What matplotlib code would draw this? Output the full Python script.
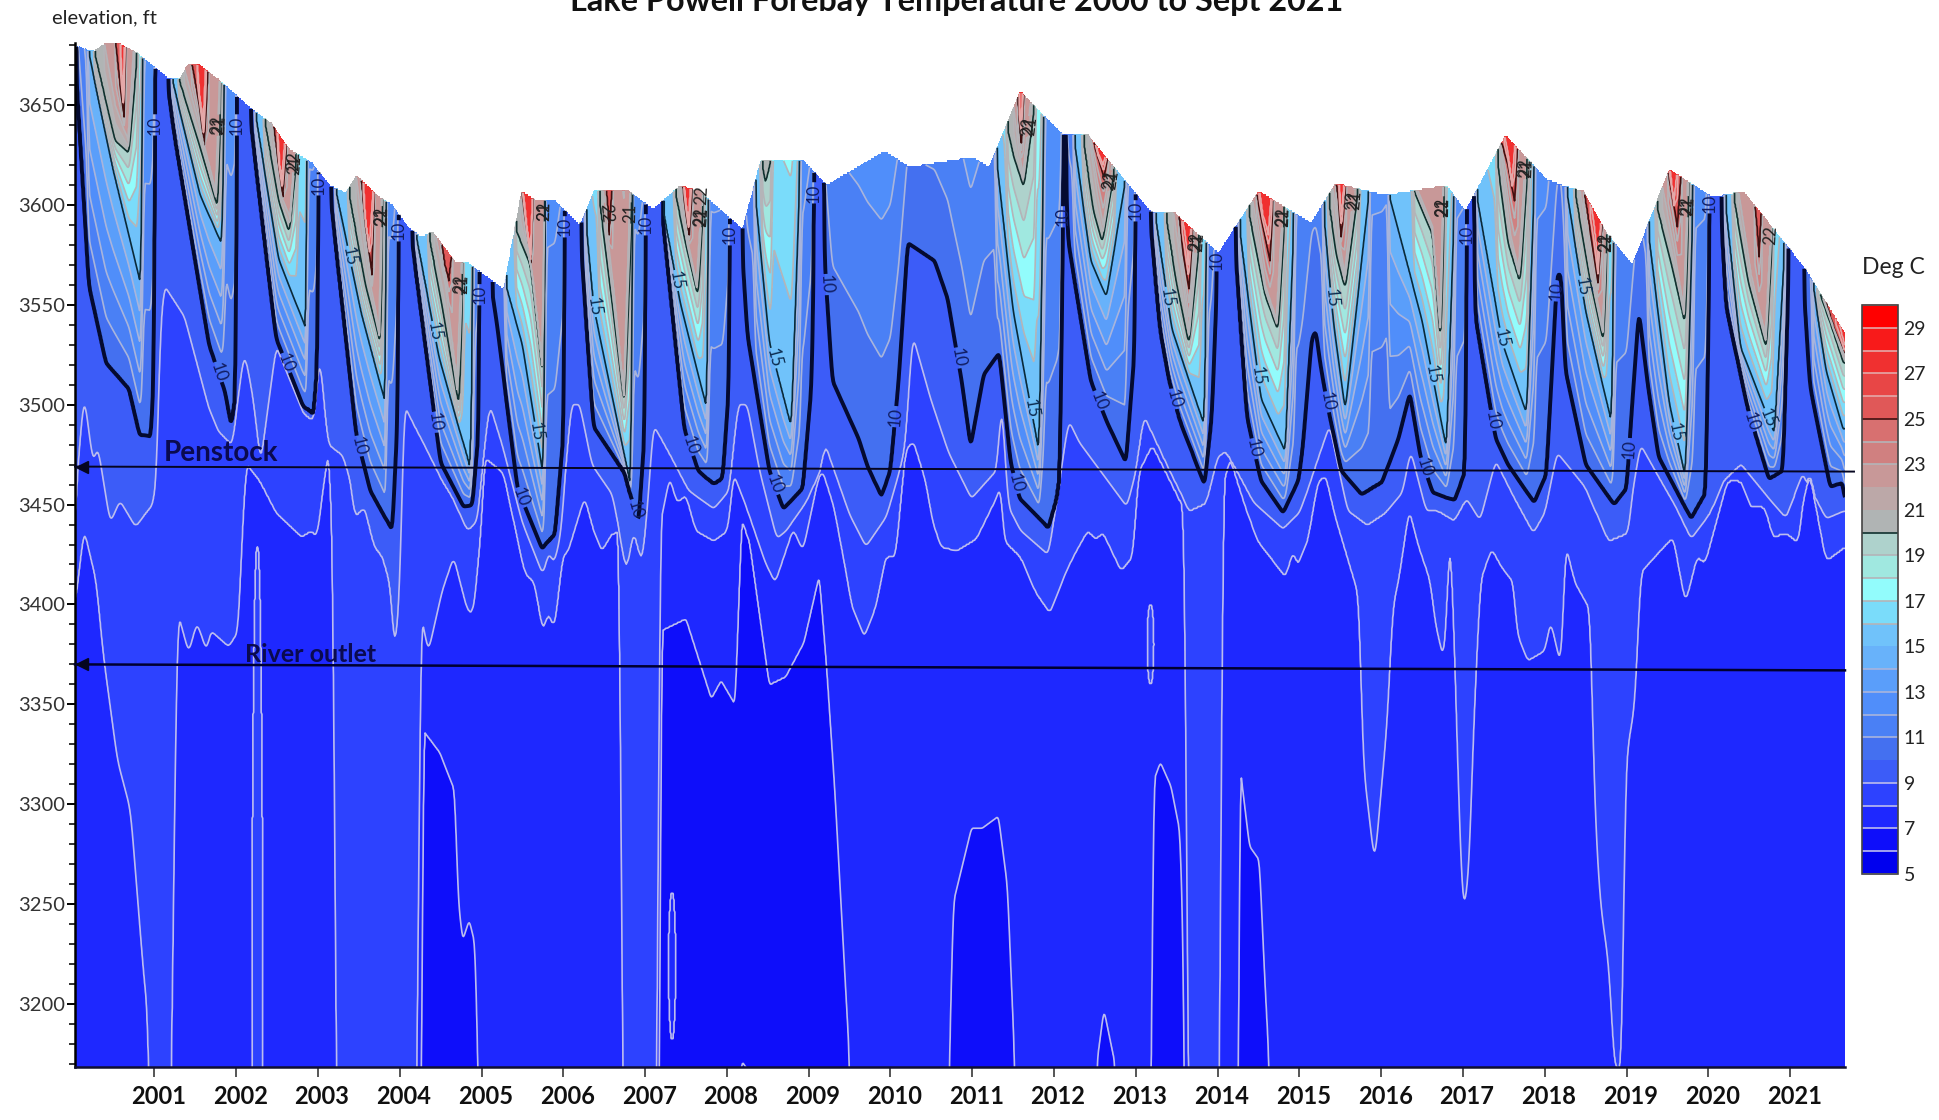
import numpy as np
import matplotlib
matplotlib.use('Agg')
import matplotlib.pyplot as plt
from matplotlib.ticker import MultipleLocator

plt.rcParams['font.family'] = ['Lato', 'DejaVu Sans']

# lake surface, decimal year / elevation ft
surf_t = [2000.03, 2000.25, 2000.39, 2000.58, 2000.8, 2001.15, 2001.31, 2001.4, 2001.56, 2001.78, 2002.0, 2002.16,
          2002.43, 2002.65, 2002.93, 2003.14, 2003.34, 2003.47, 2003.75, 2003.91, 2004.1, 2004.27, 2004.4, 2004.67,
          2004.84, 2005.27, 2005.49, 2005.68, 2005.9, 2006.2, 2006.37, 2006.59, 2006.8, 2007.1, 2007.43, 2007.66,
          2008.11, 2008.19, 2008.41, 2008.94, 2009.22, 2009.93, 2010.23, 2011.0, 2011.2, 2011.59, 2011.89, 2012.12,
          2012.42, 2013.03, 2013.18, 2013.48, 2014.01, 2014.5, 2015.14, 2015.44, 2016.05, 2016.35, 2016.8, 2017.03,
          2017.52, 2018.02, 2018.2, 2018.47, 2018.77, 2019.07, 2019.52, 2020.05, 2020.43, 2021.03, 2021.2, 2021.67]
surf_z = [3680, 3677, 3681, 3681, 3676, 3664, 3663, 3670, 3670, 3663, 3655, 3649,
          3641, 3628, 3621, 3610, 3606, 3615, 3604, 3600, 3589, 3584, 3587, 3572,
          3571, 3558, 3607, 3602, 3602, 3590, 3607, 3607, 3607, 3598, 3610, 3607,
          3591, 3588, 3622, 3622, 3610, 3627, 3619, 3624, 3619, 3657, 3644, 3635,
          3635, 3604, 3597, 3596, 3576, 3607, 3591, 3611, 3605, 3607, 3610, 3597,
          3635, 3613, 3610, 3607, 3585, 3570, 3618, 3604, 3607, 3576, 3567, 3536]

# 10 deg isotherm, one run per stratified period
iso10 = [
    [(2000.04, 3670), (2000.2, 3560), (2000.41, 3521), (2000.69, 3508), (2000.82, 3485), (2000.96, 3484), (2001.0, 3524), (2001.01, 3669)],
    [(2001.15, 3664), (2001.26, 3632), (2001.67, 3530), (2001.86, 3507), (2001.94, 3489), (2002.0, 3507), (2002.01, 3655)],
    [(2002.16, 3649), (2002.49, 3533), (2002.82, 3499), (2002.95, 3495), (2003.0, 3524), (2003.01, 3620)],
    [(2003.14, 3610), (2003.31, 3546), (2003.47, 3485), (2003.64, 3457), (2003.91, 3437), (2003.98, 3500), (2003.99, 3595)],
    [(2004.13, 3589), (2004.5, 3471), (2004.78, 3449), (2004.89, 3450), (2004.97, 3489), (2004.98, 3570)],
    [(2005.11, 3562), (2005.19, 3540), (2005.44, 3458), (2005.74, 3428), (2005.9, 3435), (2006.01, 3489), (2006.02, 3595)],
    [(2006.2, 3590), (2006.37, 3489), (2006.75, 3466), (2006.92, 3440), (2007.0, 3489), (2007.01, 3600)],
    [(2007.2, 3601), (2007.48, 3488), (2007.65, 3467), (2007.84, 3460), (2007.95, 3463), (2008.03, 3512), (2008.04, 3590)],
    [(2008.17, 3589), (2008.25, 3535), (2008.52, 3467), (2008.69, 3448), (2008.93, 3458), (2009.04, 3512), (2009.07, 3600)],
    [(2009.17, 3612), (2009.2, 3569), (2009.29, 3512), (2009.61, 3483), (2009.72, 3469), (2009.89, 3454), (2010.0, 3467),
     (2010.1, 3512), (2010.21, 3581), (2010.54, 3572), (2010.7, 3553), (2010.79, 3531), (2010.87, 3512), (2010.98, 3479),
     (2011.14, 3515), (2011.33, 3526), (2011.47, 3471), (2011.58, 3453), (2011.8, 3444), (2011.93, 3438), (2012.07, 3458), (2012.12, 3630)],
    [(2012.13, 3635), (2012.17, 3583), (2012.45, 3512), (2012.64, 3492), (2012.88, 3471), (2012.99, 3530), (2013.0, 3604)],
    [(2013.16, 3600), (2013.3, 3537), (2013.41, 3512), (2013.54, 3492), (2013.84, 3460), (2013.93, 3494), (2014.0, 3571)],
    [(2014.2, 3588), (2014.36, 3494), (2014.53, 3462), (2014.8, 3446), (2014.99, 3462), (2015.04, 3478), (2015.15, 3533),
     (2015.2, 3537), (2015.26, 3519), (2015.37, 3494), (2015.51, 3467), (2015.76, 3455), (2016.01, 3461), (2016.21, 3483),
     (2016.35, 3506), (2016.48, 3474), (2016.63, 3456), (2016.9, 3452), (2017.03, 3467), (2017.05, 3595)],
    [(2017.12, 3608), (2017.15, 3545), (2017.4, 3483), (2017.55, 3470), (2017.87, 3451), (2018.02, 3465), (2018.15, 3565),
     (2018.2, 3565), (2018.25, 3518), (2018.5, 3470), (2018.85, 3450), (2019.0, 3458), (2019.07, 3501), (2019.15, 3547),
     (2019.25, 3513), (2019.39, 3474), (2019.79, 3443), (2019.97, 3456), (2020.02, 3599)],
    [(2020.14, 3606), (2020.22, 3549), (2020.49, 3497), (2020.74, 3463), (2020.91, 3467), (2020.99, 3579)],
    [(2021.15, 3570), (2021.24, 3510), (2021.49, 3459), (2021.64, 3461), (2021.68, 3449)],
]

# t_on, t_mid, z_mid, t_bottom, z_bottom, t_off
iso15 = [
    (2000.18, 2000.49, 3619, 2000.84, 3559, 2000.86), (2001.2, 2001.56, 3605, 2001.83, 3580, 2001.86),
    (2002.22, 2002.52, 3573, 2002.86, 3537, 2002.87), (2003.2, 2003.53, 3546, 2003.83, 3500, 2003.84),
    (2004.18, 2004.48, 3524, 2004.87, 3467, 2004.9), (2005.28, 2005.5, 3530, 2005.76, 3463, 2005.78),
    (2006.26, 2006.37, 3549, 2006.83, 3458, 2006.85), (2007.19, 2007.43, 3551, 2007.76, 3497, 2007.78),
    (2008.33, 2008.52, 3531, 2008.79, 3488, 2008.9), (2011.28, 2011.5, 3547, 2011.82, 3475, 2011.88),
    (2012.23, 2012.45, 3572, 2012.64, 3554, 2012.88), (2013.22, 2013.44, 3538, 2013.84, 3489, 2013.87),
    (2014.25, 2014.53, 3503, 2014.83, 3476, 2014.94), (2015.28, 2015.42, 3540, 2015.56, 3497, 2015.86),
    (2016.08, 2016.5, 3542, 2016.8, 3477, 2016.9), (2017.15, 2017.48, 3531, 2017.78, 3495, 2017.88),
    (2018.25, 2018.5, 3547, 2018.82, 3490, 2018.85), (2019.25, 2019.52, 3501, 2019.72, 3463, 2019.82),
    (2020.19, 2020.39, 3529, 2020.81, 3485, 2020.94), (2021.26, 2021.44, 3517, 2021.66, 3486, 2021.8),
]
iso20 = [
    (2000.25, 2000.52, 3632, 2000.69, 3626, 2000.8), (2001.28, 2001.55, 3630, 2001.78, 3598, 2001.82),
    (2002.33, 2002.52, 3602, 2002.65, 3586, 2002.75), (2003.36, 2003.58, 3560, 2003.77, 3530, 2003.8),
    (2004.34, 2004.51, 3551, 2004.73, 3498, 2004.78), (2005.4, 2005.6, 3570, 2005.76, 3512, 2005.78),
    (2006.42, 2006.6, 3550, 2006.75, 3499, 2006.85), (2007.35, 2007.5, 3580, 2007.65, 3554, 2007.72),
    (2008.41, 2008.44, 3618, 2008.47, 3610, 2008.55), (2011.41, 2011.5, 3625, 2011.63, 3609, 2011.77),
    (2012.34, 2012.48, 3597, 2012.59, 3581, 2012.75), (2013.35, 2013.49, 3562, 2013.65, 3530, 2013.79),
    (2014.36, 2014.58, 3555, 2014.74, 3537, 2014.83), (2015.34, 2015.45, 3575, 2015.56, 3558, 2015.73),
    (2016.38, 2016.63, 3585, 2016.73, 3529, 2016.78), (2017.4, 2017.55, 3581, 2017.7, 3561, 2017.8),
    (2018.35, 2018.55, 3563, 2018.72, 3531, 2018.77), (2019.35, 2019.55, 3570, 2019.72, 3540, 2019.77),
    (2020.29, 2020.49, 3561, 2020.71, 3528, 2020.79), (2021.31, 2021.5, 3540, 2021.66, 3520, 2021.8),
]
# edge of the pale pink water
iso22 = [
    (2000.38, 2000.52, 3650, 2000.68, 3632, 2000.75), (2001.36, 2001.55, 3640, 2001.75, 3606, 2001.8),
    (2002.42, 2002.55, 3605, 2002.66, 3593, 2002.72), (2003.46, 2003.6, 3570, 2003.75, 3536, 2003.78),
    (2004.42, 2004.56, 3560, 2004.7, 3510, 2004.76), (2005.47, 2005.62, 3565, 2005.74, 3520, 2005.77),
    (2006.48, 2006.62, 3555, 2006.74, 3505, 2006.82), (2007.42, 2007.52, 3582, 2007.63, 3560, 2007.7),
    (2011.5, 2011.56, 3630, 2011.62, 3615, 2011.72), (2012.42, 2012.53, 3605, 2012.6, 3590, 2012.72),
    (2013.45, 2013.55, 3570, 2013.65, 3537, 2013.75), (2014.42, 2014.58, 3560, 2014.72, 3542, 2014.8),
    (2015.4, 2015.48, 3585, 2015.55, 3565, 2015.68), (2016.42, 2016.62, 3590, 2016.72, 3540, 2016.76),
    (2017.45, 2017.58, 3585, 2017.68, 3567, 2017.77), (2018.42, 2018.58, 3565, 2018.71, 3538, 2018.75),
    (2019.43, 2019.58, 3578, 2019.7, 3547, 2019.75), (2020.36, 2020.52, 3565, 2020.7, 3534, 2020.77),
    (2021.38, 2021.52, 3540, 2021.66, 3525, 2021.8),
]
iso25 = [
    (2000.52, 2000.58, 3660, 2000.63, 3644, 2000.65), (2001.45, 2001.55, 3650, 2001.61, 3629, 2001.66),
    (2002.45, 2002.52, 3618, 2002.57, 3604, 2002.62), (2003.52, 2003.6, 3585, 2003.66, 3565, 2003.69),
    (2004.5, 2004.55, 3570, 2004.6, 3562, 2004.64), (2005.49, 2005.55, 3585, 2005.6, 3564, 2005.63),
    (2006.52, 2006.54, 3600, 2006.56, 3585, 2006.6), (2007.45, 2007.5, 3595, 2007.54, 3585, 2007.58),
    (2011.55, 2011.57, 3645, 2011.6, 3631, 2011.63), (2012.45, 2012.53, 3625, 2012.61, 3614, 2012.66),
    (2013.52, 2013.58, 3575, 2013.65, 3558, 2013.7), (2014.47, 2014.55, 3590, 2014.64, 3572, 2014.68),
    (2015.44, 2015.48, 3600, 2015.51, 3584, 2015.57), (2017.46, 2017.55, 3620, 2017.63, 3602, 2017.67),
    (2018.47, 2018.56, 3585, 2018.65, 3561, 2018.7), (2019.5, 2019.56, 3605, 2019.62, 3589, 2019.67),
    (2020.56, 2020.59, 3590, 2020.62, 3574, 2020.65), (2021.42, 2021.45, 3549, 2021.67, 3520, 2021.8),
]
iso27 = [
    (2000.58, 2000.6, 3665, 2000.62, 3655, 2000.64), (2001.52, 2001.55, 3655, 2001.6, 3640, 2001.63),
    (2002.5, 2002.53, 3620, 2002.56, 3612, 2002.6), (2003.55, 2003.58, 3590, 2003.63, 3578, 2003.68),
    (2005.5, 2005.55, 3590, 2005.6, 3575, 2005.63), (2007.47, 2007.5, 3600, 2007.53, 3590, 2007.56),
    (2011.57, 2011.58, 3645, 2011.6, 3640, 2011.62), (2012.5, 2012.54, 3625, 2012.6, 3620, 2012.64),
    (2013.56, 2013.6, 3585, 2013.64, 3570, 2013.68), (2014.5, 2014.55, 3595, 2014.62, 3585, 2014.66),
    (2015.48, 2015.5, 3600, 2015.52, 3595, 2015.55), (2017.5, 2017.55, 3625, 2017.6, 3610, 2017.64),
    (2018.55, 2018.6, 3590, 2018.65, 3570, 2018.69), (2019.52, 2019.55, 3610, 2019.58, 3600, 2019.62),
    (2021.55, 2021.6, 3540, 2021.66, 3530, 2021.8),
]

# 9 deg
iso9_t = [2000.03, 2000.05, 2000.14, 2000.25, 2000.31, 2000.46, 2000.58, 2000.77, 2000.99, 2001.04, 2001.06, 2001.12, 2001.37, 2001.67,
          2001.78, 2001.95, 2002.1, 2002.2, 2002.3, 2002.49, 2002.82, 2002.95, 2003.02, 2003.12, 2003.3, 2003.4, 2003.45, 2003.57,
          2003.69, 2003.79, 2003.89, 2003.94, 2004.01, 2004.05, 2004.3, 2004.52, 2004.64, 2004.83, 2004.95, 2005.03, 2005.1, 2005.25,
          2005.5, 2005.75, 2005.82, 2005.89, 2005.97, 2006.02, 2006.1, 2006.2, 2006.35, 2006.6, 2006.77, 2006.86, 2006.96, 2007.03,
          2007.1, 2007.3, 2007.53, 2007.84, 2008.03, 2008.14, 2008.25, 2008.4, 2008.61, 2008.73, 2008.98, 2009.15, 2009.2, 2009.5,
          2009.7, 2009.95, 2010.1, 2010.18, 2010.27, 2010.49, 2010.71, 2010.99, 2011.3, 2011.36, 2011.44, 2011.59, 2011.93, 2012.18,
          2012.31, 2012.89, 2013.0, 2013.1, 2013.42, 2013.65, 2013.86, 2014.0, 2014.1, 2014.24, 2014.44, 2014.8, 2015.0, 2015.1,
          2015.37, 2015.59, 2015.83, 2016.05, 2016.26, 2016.36, 2016.55, 2016.7, 2016.89, 2017.04, 2017.21, 2017.4, 2017.62, 2017.86,
          2018.0, 2018.15, 2018.49, 2018.78, 2019.02, 2019.07, 2019.17, 2019.6, 2019.79, 2020.03, 2020.18, 2020.4, 2020.7, 2020.95,
          2021.15, 2021.44, 2021.67]
iso9_z = [3430, 3460, 3505, 3471, 3479, 3441, 3452, 3439, 3451, 3472, 3530, 3560, 3544, 3498,
          3487, 3480, 3526, 3505, 3470, 3530, 3496, 3492, 3525, 3480, 3475, 3462, 3444, 3449,
          3429, 3424, 3409, 3374, 3416, 3500, 3480, 3462, 3454, 3437, 3442, 3474, 3500, 3480,
          3441, 3415, 3426, 3421, 3435, 3462, 3500, 3500, 3470, 3455, 3417, 3437, 3421, 3449,
          3490, 3475, 3457, 3448, 3457, 3500, 3500, 3467, 3433, 3437, 3452, 3467, 3480, 3445,
          3429, 3444, 3465, 3478, 3535, 3503, 3476, 3453, 3467, 3503, 3449, 3437, 3425, 3492,
          3481, 3449, 3466, 3494, 3466, 3447, 3451, 3474, 3476, 3466, 3451, 3438, 3446, 3457,
          3490, 3447, 3440, 3446, 3456, 3477, 3447, 3447, 3442, 3453, 3442, 3472, 3454, 3436,
          3446, 3476, 3459, 3432, 3436, 3456, 3480, 3449, 3433, 3446, 3461, 3470, 3455, 3443,
          3465, 3443, 3447]

# 8 deg
iso8_t = [2000.03, 2000.14, 2000.29, 2000.38, 2000.55, 2000.71, 2000.87, 2000.93, 2000.95, 2001.2, 2001.21, 2001.28, 2001.42, 2001.52,
          2001.64, 2001.69, 2001.91, 2002.03, 2002.05, 2002.12, 2002.29, 2002.49, 2002.8, 2002.92, 2002.99, 2003.07, 2003.14, 2003.2,
          2003.22, 2004.2, 2004.22, 2004.25, 2004.35, 2004.52, 2004.66, 2004.83, 2004.9, 2005.0, 2005.03, 2005.27, 2005.53, 2005.65,
          2005.75, 2005.82, 2005.89, 2005.99, 2006.06, 2006.26, 2006.38, 2006.47, 2006.6, 2006.7, 2006.72, 2006.74, 2007.15, 2007.17,
          2007.3, 2007.39, 2007.5, 2007.62, 2007.84, 2008.01, 2008.08, 2008.25, 2008.47, 2008.59, 2008.81, 2008.93, 2009.12, 2009.17,
          2009.31, 2009.46, 2009.53, 2009.68, 2009.82, 2009.94, 2010.06, 2010.18, 2010.28, 2010.43, 2010.52, 2010.62, 2010.81, 2011.05,
          2011.3, 2011.35, 2011.39, 2011.59, 2011.78, 2011.95, 2012.14, 2012.26, 2012.41, 2012.51, 2012.6, 2012.82, 2012.96, 2013.03,
          2013.2, 2013.42, 2013.6, 2013.62, 2013.64, 2014.03, 2014.05, 2014.15, 2014.34, 2014.49, 2014.83, 2014.92, 2014.98, 2015.1,
          2015.22, 2015.32, 2015.44, 2015.73, 2015.78, 2015.92, 2016.07, 2016.14, 2016.21, 2016.34, 2016.46, 2016.6, 2016.67, 2016.77,
          2016.84, 2016.89, 2016.95, 2017.0, 2017.07, 2017.13, 2017.21, 2017.35, 2017.47, 2017.62, 2017.66, 2017.79, 2018.0, 2018.07,
          2018.2, 2018.25, 2018.37, 2018.56, 2018.58, 2018.62, 2018.68, 2018.78, 2018.85, 2018.95, 2018.97, 2019.0, 2019.1, 2019.17,
          2019.41, 2019.57, 2019.72, 2019.86, 2019.96, 2020.23, 2020.4, 2020.52, 2020.69, 2020.79, 2020.95, 2021.1, 2021.15, 2021.24,
          2021.44, 2021.67]
iso8_z = [3400, 3438, 3412, 3374, 3322, 3297, 3214, 3190, 3100, 3100, 3169, 3397, 3376, 3391,
          3377, 3387, 3379, 3387, 3416, 3471, 3462, 3446, 3434, 3437, 3434, 3461, 3480, 3400,
          3100, 3100, 3169, 3397, 3376, 3407, 3424, 3397, 3396, 3441, 3474, 3466, 3416, 3411,
          3387, 3396, 3388, 3424, 3427, 3454, 3436, 3427, 3436, 3436, 3100, 3100, 3100, 3437,
          3464, 3451, 3455, 3437, 3432, 3437, 3466, 3447, 3421, 3411, 3438, 3427, 3464, 3467,
          3449, 3416, 3399, 3384, 3399, 3424, 3424, 3477, 3482, 3462, 3441, 3429, 3427, 3433,
          3454, 3460, 3432, 3424, 3406, 3396, 3416, 3426, 3437, 3433, 3436, 3417, 3424, 3466,
          3480, 3462, 3447, 3300, 3100, 3100, 3456, 3474, 3449, 3432, 3414, 3427, 3420, 3432,
          3461, 3465, 3444, 3404, 3320, 3270, 3340, 3399, 3412, 3448, 3429, 3412, 3389, 3372,
          3439, 3390, 3300, 3245, 3264, 3340, 3412, 3428, 3419, 3411, 3386, 3372, 3377, 3392,
          3369, 3431, 3411, 3397, 3350, 3290, 3250, 3220, 3168, 3168, 3290, 3325, 3350, 3416,
          3427, 3434, 3401, 3424, 3421, 3462, 3462, 3449, 3449, 3434, 3436, 3431, 3451, 3466,
          3422, 3429]

# 7 deg, only the cold pools reach above the lake bottom
iso7_t = [2000.03, 2004.25, 2004.27, 2004.29, 2004.49, 2004.67, 2004.72, 2004.77, 2004.85, 2004.92, 2004.96, 2004.98,
          2007.17, 2007.2, 2007.5, 2007.81, 2007.93, 2008.1, 2008.18, 2008.28, 2008.52, 2008.72, 2008.94, 2009.13, 2009.22,
          2009.32, 2009.5, 2009.52, 2010.7, 2010.72, 2010.77, 2010.99, 2011.12, 2011.32, 2011.43, 2011.52, 2011.54,
          2012.5, 2012.52, 2012.61, 2012.75, 2012.77, 2013.17, 2013.19, 2013.22, 2013.3, 2013.43, 2013.54, 2013.58, 2013.6,
          2014.24, 2014.26, 2014.27, 2014.39, 2014.51, 2014.58, 2014.63, 2014.65, 2021.67]
iso7_z = [3100, 3100, 3169, 3337, 3326, 3307, 3250, 3232, 3242, 3230, 3160, 3100,
          3100, 3387, 3393, 3353, 3362, 3350, 3443, 3431, 3360, 3364, 3381, 3415, 3369,
          3307, 3171, 3100, 3100, 3169, 3251, 3288, 3288, 3294, 3259, 3169, 3100,
          3100, 3169, 3197, 3169, 3100, 3100, 3169, 3312, 3321, 3309, 3286, 3226, 3100,
          3100, 3169, 3320, 3279, 3272, 3209, 3169, 3100, 3100]

# small warm lenses: centre t, half width, centre z, half height, deg C
lens_tc = [2002.26, 2013.18, 2007.33]
lens_w = [0.07, 0.04, 0.045]
lens_zc = [3150, 3380, 3219]
lens_h = [279, 20, 37]
lens_temp = [8.4, 8.4, 7.4]

# contour labels, read along the isotherms
label10_t = [2001.76, 2002.56, 2003.46, 2004.39, 2005.45, 2006.84, 2007.52, 2008.52, 2009.16, 2010.77, 2010.06, 2011.47,
             2012.48, 2013.4, 2014.37, 2015.29, 2016.5, 2017.33, 2018.13, 2019.03, 2020.42, 2000.98, 2001.98, 2003.0,
             2003.99, 2004.97, 2006.03, 2007.0, 2008.05, 2009.07, 2012.12, 2013.0, 2014.0, 2017.04, 2020.03]
label10_z = [3516, 3520, 3479, 3491, 3453, 3447, 3479, 3459, 3560, 3523, 3494, 3460,
             3501, 3502, 3477, 3501, 3468, 3492, 3557, 3478, 3490, 3640, 3640, 3610,
             3587, 3555, 3589, 3590, 3585, 3606, 3594, 3597, 3572, 3585, 3601]
label15_t = [2003.35, 2004.33, 2005.48, 2006.37, 2007.36, 2008.52, 2011.53, 2013.43, 2014.41, 2015.32, 2016.5, 2017.44,
             2018.37, 2019.48, 2020.66]
label15_z = [3574, 3536, 3485, 3549, 3562, 3523, 3497, 3554, 3514, 3553, 3514, 3533,
             3559, 3485, 3492]
label22_t = [2001.71, 2002.65, 2003.91, 2004.9, 2005.65, 2006.65, 2007.67, 2008.88, 2011.8, 2012.75, 2013.8, 2014.78,
             2015.68, 2016.7, 2017.8, 2018.75, 2019.78, 2020.77]
label22_z = [3640, 3622, 3594, 3560, 3597, 3596, 3594, 3612, 3639, 3612, 3581, 3594,
             3602, 3599, 3618, 3581, 3599, 3585]
label21_t = [2001.78, 2002.72, 2003.97, 2004.95, 2005.72, 2006.72, 2007.74, 2011.86, 2012.82, 2013.86, 2014.85,
             2015.76, 2016.76, 2017.86, 2018.82, 2019.85]
label21_z = [3640, 3620, 3594, 3560, 3597, 3596, 3594, 3639, 3612, 3581, 3594,
             3602, 3599, 3618, 3581, 3599]

levels = np.arange(5, 31)
level_colors = ['#0000EE', '#0E0EFA', '#1E28FF', '#2D42FF', '#3C5CF8', '#4470F0', '#4A80F5', '#508EFA', '#5A9EFA', '#68B2FA',
                '#70C2FA', '#7ADCFA', '#92FCFC', '#A0E8E0', '#AED2CC', '#B0B4B4', '#BCA8A8', '#C89898', '#D08080', '#D87070',
                '#E05858', '#E84646', '#F03030', '#F81A1A', '#FF0000']
line_colors = []
for v in levels:
    if v < 10:
        line_colors.append('#BCBCEE')
    elif v < 15:
        line_colors.append('#A8B4DC')
    elif v < 25:
        line_colors.append('#B4B4B8')
    else:
        line_colors.append('#E4A8A8')
line_widths = [1.2] * len(levels)
for lev, col, w in [(10, '#040A30', 2.8), (15, '#0A2A3A', 1.2), (20, '#10302E', 1.2), (25, '#401010', 1.2)]:
    line_colors[lev - 5] = col
    line_widths[lev - 5] = w

ABOVE = 3800.0
tt = np.arange(2000.03, 2021.675, 0.01)
zz = np.arange(3160, 3690, 1.0)
surface = np.interp(tt, surf_t, surf_z)


def from_rows(rows):
    out = np.full(tt.shape, ABOVE)
    for t_on, t_mid, z_mid, t_bot, z_bot, t_off in rows:
        ts = [t_on, t_mid, t_bot, t_off]
        zs = [np.interp(t_on, surf_t, surf_z) + 2, z_mid, z_bot, np.interp(t_off, surf_t, surf_z) + 2]
        win = (tt >= t_on) & (tt <= t_off)
        out[win] = np.interp(tt[win], ts, zs)
    return out


def from_runs(runs):
    out = np.full(tt.shape, ABOVE)
    for run in runs:
        ts = [p[0] for p in run]
        zs = [p[1] for p in run]
        win = (tt >= ts[0]) & (tt <= ts[-1])
        out[win] = np.interp(tt[win], ts, zs)
    return out


def soften(y, n):
    # the hand-read isotherms are angular, the gridded original is not
    kernel = np.ones(n) / n
    for _ in range(2):
        y = np.convolve(np.pad(y, n, mode='edge'), kernel, mode='same')[n:-n]
    return y


key_levels = np.array([5.0, 7, 8, 9, 10, 15, 20, 22, 25, 27, 30])
key_z = np.vstack([
    np.full(tt.shape, 2900.0),
    soften(np.interp(tt, iso7_t, iso7_z), 3),
    soften(np.interp(tt, iso8_t, iso8_z), 5),
    soften(np.interp(tt, iso9_t, iso9_z), 5),
    soften(from_runs(iso10), 3),
    soften(from_rows(iso15), 3),
    soften(from_rows(iso20), 3),
    from_rows(iso22),
    from_rows(iso25),
    from_rows(iso27),
    np.full(tt.shape, 4000.0),
])
key_z = np.maximum.accumulate(key_z, axis=0)
# keep the warm layers stacked even where one isotherm is missing
for i in range(1, len(key_levels)):
    key_z[i] = np.maximum(key_z[i], key_z[i - 1] + 0.01)

temp = np.zeros((len(zz), len(tt)))
for j in range(len(tt)):
    temp[:, j] = np.interp(zz, key_z[:, j], key_levels)
for tc, w, zc, h, deg in zip(lens_tc, lens_w, lens_zc, lens_h, lens_temp):
    inside = ((tt[None, :] - tc) / w) ** 2 + ((zz[:, None] - zc) / h) ** 2 < 1
    temp[inside] = deg
temp = np.ma.masked_where(zz[:, None] > surface[None, :], temp)

fig = plt.figure(figsize=(19.39, 11.2), dpi=100)
ax = fig.add_axes([75 / 1939, 53 / 1120, 1770 / 1939, 1024 / 1120])

cf = ax.contourf(tt, zz, temp, levels=levels, colors=level_colors)
plain = [v for v in levels if v not in (10, 15, 21, 22)]
cs = ax.contour(tt, zz, temp, levels=plain, colors=[line_colors[v - 5] for v in plain],
                linewidths=[line_widths[v - 5] for v in plain])

ax.set_xlim(2000.03, 2021.67)
ax.set_ylim(3168.5, 3681)

# clabel manual only works on a contour set of its own
for lev, xs, ys, col in [(10, label10_t, label10_z, '#101C60'), (15, label15_t, label15_z, '#0C2C50'),
                         (22, label22_t, label22_z, '#202020'), (21, label21_t, label21_z, '#202020')]:
    one = ax.contour(tt, zz, temp, levels=[lev], colors=[line_colors[lev - 5]], linewidths=[line_widths[lev - 5]])
    ax.clabel(one, manual=list(zip(xs, ys)), fmt='%d', fontsize=12, colors=col, inline=True, inline_spacing=1)

# outlets
ax.plot([2000.03, 2021.78], [3469, 3466.5], color='#050520', lw=1.4, clip_on=False, zorder=5)
ax.plot([2000.03, 2021.67], [3370, 3367], color='#000030', lw=1.8, clip_on=False, zorder=5)
ax.plot([2000.12, 2000.12], [3469, 3370], ls='none', marker='<', ms=9, color='#050520', zorder=6)
ax.text(2001.81, 3476, 'Penstock', fontsize=20, fontweight='bold', color='#0A0A50', ha='center', va='center', zorder=6)
ax.text(2002.91, 3375, 'River outlet', fontsize=18, fontweight='bold', color='#0A0A50', ha='center', va='center', zorder=6)

ax.spines['top'].set_visible(False)
ax.spines['right'].set_visible(False)
ax.spines['left'].set_linewidth(1.8)
ax.spines['bottom'].set_linewidth(1.8)
ax.spines['bottom'].set_color('#101030')

ax.set_xticks(np.arange(2001, 2022))
ax.set_xticklabels([])
for yr in range(2001, 2022):
    ax.annotate(str(yr), (yr, 3168.5), xytext=(4, -30), textcoords='offset pixels', ha='center', va='center',
                fontsize=17, fontweight='bold', color='#101010', annotation_clip=False)
ax.tick_params(axis='x', length=7, width=1.4, color='#555555')
ax.yaxis.set_major_locator(MultipleLocator(50))
ax.yaxis.set_minor_locator(MultipleLocator(10))
ax.tick_params(axis='y', which='major', length=6, width=1.4, labelsize=14.5, pad=1, labelcolor='#333333')
ax.tick_params(axis='y', which='minor', length=4.5, width=1.4, color='#333333')

fig.text(104 / 1939, 1 - 18 / 1120, 'elevation, ft', fontsize=14.5, color='#222222', ha='center', va='center')
fig.text(957 / 1939, 1 - 1 / 1120, 'Lake Powell Forebay Temperature 2000 to Sept 2021', fontsize=23.3, fontweight='bold',
         color='#111111', ha='center', va='center')
fig.text(1893 / 1939, 1 - 267 / 1120, 'Deg C', fontsize=16.5, color='#222222', ha='center', va='center')

cax = fig.add_axes([1862 / 1939, 246 / 1120, 36 / 1939, 569 / 1120])
cb = fig.colorbar(cf, cax=cax, ticks=np.arange(5, 30, 2), spacing='proportional')
cb.add_lines(cs)
cb.ax.tick_params(length=0, labelsize=14, pad=4, labelcolor='#222222')
cb.outline.set_edgecolor('#444444')
cb.outline.set_linewidth(1.2)

fig.savefig('out.png', dpi=100)
